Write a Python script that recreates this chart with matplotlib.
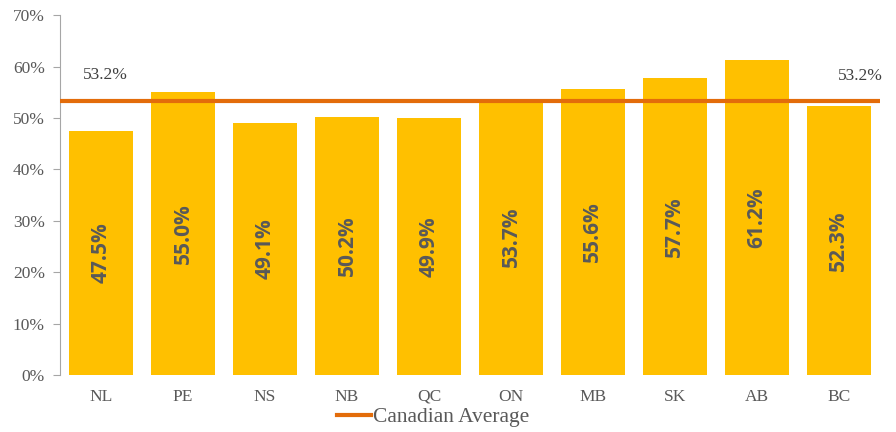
import matplotlib.pyplot as plt
from matplotlib.ticker import FuncFormatter

# Provinces and their shares
provinces = ['NL', 'PE', 'NS', 'NB', 'QC', 'ON', 'MB', 'SK', 'AB', 'BC']
values = [47.5, 55.0, 49.1, 50.2, 49.9, 53.7, 55.6, 57.7, 61.2, 52.3]
canadian_avg = 53.2

gray = '#595959'
serif = ['Liberation Serif', 'DejaVu Serif']

fig = plt.figure(figsize=(8.96, 4.32), dpi=100)
ax = fig.add_axes([0.067, 0.132, 0.915, 0.833])

x = range(len(provinces))
bars = ax.bar(x, values, width=0.78, color='#FFC000', zorder=2)

# value labels inside bars
for b, v in zip(bars, values):
    ax.text(b.get_x() + b.get_width() / 2, v / 2, f'{v:.1f}%', rotation=90,
            ha='center', va='center', fontsize=15, fontweight='bold',
            color=gray, family=['Open Sans', 'DejaVu Sans'], zorder=3)

ax.axhline(canadian_avg, color='#E36C0A', linewidth=3, zorder=4,
           label='Canadian Average')
ax.text(0.05, 58.3, f'{canadian_avg}%', ha='center', va='center',
        fontsize=12.5, color='#404040', family=serif)
ax.text(9.26, 58.2, f'{canadian_avg}%', ha='center', va='center',
        fontsize=12.5, color='#404040', family=serif)

ax.set_xlim(-0.5, len(provinces) - 0.5)
ax.set_ylim(0, 70)
ax.set_yticks(range(0, 71, 10))
ax.yaxis.set_major_formatter(FuncFormatter(lambda v, p: f'{v:.0f}%'))
ax.set_xticks(list(x))
ax.set_xticklabels(provinces)

for s in ['top', 'right', 'bottom']:
    ax.spines[s].set_visible(False)
ax.spines['left'].set_color('#A6A6A6')
ax.tick_params(axis='y', length=5, color='#A6A6A6', pad=6)
ax.tick_params(axis='x', length=0, pad=10)
for lbl in ax.get_xticklabels() + ax.get_yticklabels():
    lbl.set_family(serif)
    lbl.set_fontsize(12.5)
    lbl.set_color(gray)

leg = ax.legend(loc='upper center', bbox_to_anchor=(0.455, -0.06), frameon=False,
                handlelength=1.6, handletextpad=0.1, borderpad=0,
                prop={'family': serif, 'size': 15.5})
for t in leg.get_texts():
    t.set_color(gray)

fig.savefig('out.png', dpi=100)
